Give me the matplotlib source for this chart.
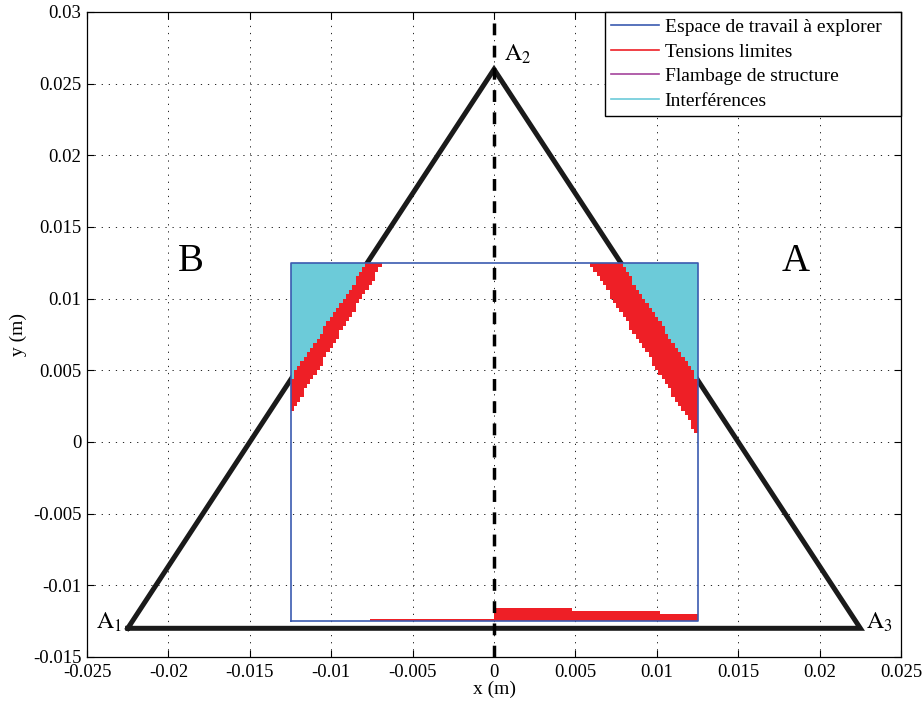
import numpy as np
import matplotlib
matplotlib.use("Agg")
import matplotlib.pyplot as plt
from matplotlib.colors import ListedColormap

plt.rcParams['font.family'] = ['Liberation Serif', 'DejaVu Serif']
plt.rcParams['mathtext.fontset'] = 'stix'

# Triangle A1 - A2 - A3 (m)
tri_x = [-0.0225, 0.0, 0.0225]
tri_y = [-0.013, 0.026, -0.013]
tri_labels = [r'$\mathrm{A}_{\mathit{1}}$', r'$\mathrm{A}_{2}$', r'$\mathrm{A}_{\mathit{3}}$']

# workspace to explore (square, half side) and grid steps of the map
ws_half = 0.0125
cell_x = 0.0002
cell_y = 0.0003125

# outer edge of the "tensions limites" bands
left_band_x = [-0.0122, -0.0068]
left_band_y = [0.0025, 0.0125]
right_band_x = [0.0059, 0.0124]
right_band_y = [0.0125, 0.0007]

# "tensions limites" strip along the bottom edge
bottom_edges = [-0.0076, 0.0, 0.0048, 0.0102, 0.0125]
bottom_tops = [-0.01235, -0.01155, -0.01177, -0.0120]

legend_labels = ["Espace de travail à explorer", "Tensions limites",
                 "Flambage de structure", "Interférences"]

c_blue = '#3b5bb0'
c_red = '#ee1f26'
c_mag = '#a4449c'
c_cyan = '#6ccbd9'

# build the cell map: 1 = tensions, 2 = interferences
xe = np.arange(-ws_half, ws_half + cell_x / 2, cell_x)
ye = np.arange(-ws_half, ws_half + cell_y / 2, cell_y)
X, Y = np.meshgrid(xe[:-1] + cell_x / 2, ye[:-1] + cell_y / 2)

def line_x(yv, xs, ys):
    return xs[0] + (yv - ys[0]) * (xs[1] - xs[0]) / (ys[1] - ys[0])

Z = np.full(X.shape, np.nan)
red = ((X < 0) & (X < line_x(Y, left_band_x, left_band_y))) | \
      ((X > 0) & (X > line_x(Y, right_band_x, right_band_y)))
Z[red] = 1
tri_left = line_x(Y, tri_x[:2], tri_y[:2])
tri_right = line_x(Y, tri_x[1:], tri_y[1:])
Z[(X < tri_left) | (X > tri_right)] = 2

fig = plt.figure(figsize=(9.23, 7.04), dpi=100)
ax = fig.add_axes([0.0943, 0.0668, 0.8819, 0.9162])

# triangle first: the maps are drawn over it
ax.plot(tri_x + tri_x[:1], tri_y + tri_y[:1], color='#1a1a1a', lw=3.6,
        solid_joinstyle='miter', zorder=0.9)

ax.pcolormesh(xe, ye, np.ma.masked_invalid(Z),
              cmap=ListedColormap([c_red, c_cyan]), vmin=0.5, vmax=2.5,
              edgecolors='none', antialiased=False, zorder=1)

heights = np.array(bottom_tops) + ws_half
ax.bar(bottom_edges[:-1], heights, width=np.diff(bottom_edges), bottom=-ws_half,
       align='edge', color=c_red, linewidth=0, zorder=1.5)

sq_x = [-ws_half, ws_half, ws_half, -ws_half, -ws_half]
sq_y = [-ws_half, -ws_half, ws_half, ws_half, -ws_half]
ax.plot(sq_x, sq_y, color=c_blue, lw=1.2, label=legend_labels[0], zorder=3)
ax.plot([], [], color=c_red, lw=1.2, label=legend_labels[1])
ax.plot([], [], color=c_mag, lw=1.2, label=legend_labels[2])
ax.plot([], [], color=c_cyan, lw=1.2, label=legend_labels[3])

ax.plot([0, 0], [-0.015, 0.03], color='k', lw=2.5, linestyle=(0, (3.4, 3.0)), zorder=5)

offsets = [(-4, 0, 'right'), (7, 6, 'left'), (4, 0, 'left')]
for xv, yv, lab, (dx, dy, ha) in zip(tri_x, tri_y, tri_labels, offsets):
    ax.annotate(lab, (xv, yv), xytext=(dx, dy), textcoords='offset points',
                ha=ha, va='baseline', fontsize=17, zorder=6)

ax.text(-0.0186, 0.0119, 'B', fontsize=28, ha='center', va='baseline')
ax.text(0.01855, 0.0119, 'A', fontsize=28, ha='center', va='baseline')

ax.set_xlim(-0.025, 0.025)
ax.set_ylim(-0.015, 0.03)
xt = np.arange(-0.025, 0.0251, 0.005)
yt = np.arange(-0.015, 0.0301, 0.005)
ax.set_xticks(xt)
ax.set_yticks(yt)
ax.set_xticklabels([f'{v:g}' if abs(v) > 1e-9 else '0' for v in np.round(xt, 3)])
ax.set_yticklabels([f'{v:g}' if abs(v) > 1e-9 else '0' for v in np.round(yt, 3)])
ax.tick_params(direction='in', top=True, right=True, length=5, labelsize=13.5, width=0.8)
ax.tick_params(axis='x', pad=5)
ax.tick_params(axis='y', pad=4)
ax.grid(True, color='k', lw=0.6, linestyle=(0, (1.5, 7)), zorder=0.5)
ax.set_axisbelow(True)
for s in ax.spines.values():
    s.set_linewidth(0.9)

ax.set_xlabel('x (m)', fontsize=14, labelpad=0)
ax.set_ylabel('y (m)', fontsize=14, labelpad=4)

leg = ax.legend(loc='upper right', bbox_to_anchor=(0.636, 0.0, 0.364, 1.0),
                mode='expand', borderaxespad=0, fancybox=False, framealpha=1,
                edgecolor='k', fontsize=14, handlelength=2.45, labelspacing=0.36,
                borderpad=0.33, handletextpad=0.3)
leg.get_frame().set_linewidth(1.0)
leg.set_zorder(10)

fig.savefig('out.png', dpi=100)
